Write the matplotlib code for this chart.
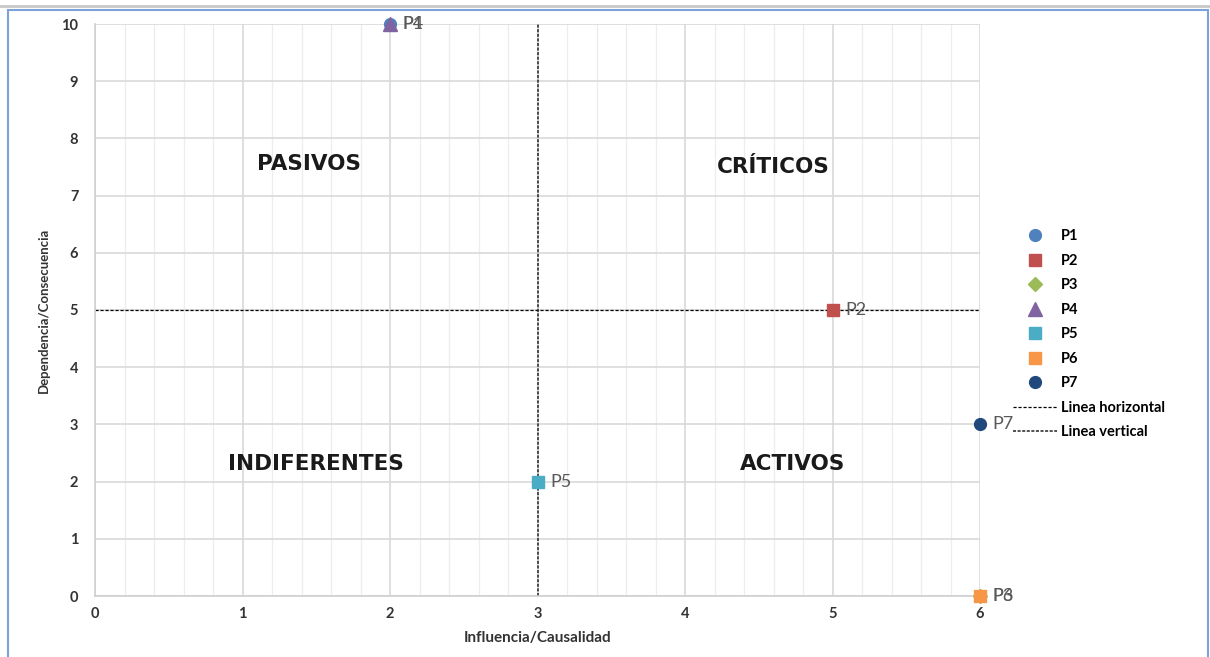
import matplotlib.pyplot as plt
from matplotlib.lines import Line2D
from matplotlib.patches import Rectangle

plt.rcParams['font.family'] = ['Lato', 'DejaVu Sans']

# datos de los puntos
nombres = ["P1", "P2", "P3", "P4", "P5", "P6", "P7"]
influencia = [2, 5, 6, 2, 3, 6, 6]
dependencia = [10, 5, 0, 10, 2, 0, 3]
marcadores = ["o", "s", "D", "^", "s", "s", "o"]
tamanos = [8.5, 8.5, 7, 10, 8.5, 8.5, 8.5]
colores = ["#4F81BD", "#C0504D", "#9BBB59", "#8064A2", "#4BACC6", "#F79646", "#1F497D"]

# cuadrantes
cuadrantes = ["PASIVOS", "CRÍTICOS", "INDIFERENTES", "ACTIVOS"]
cuad_x = [1.45, 4.6, 1.5, 4.73]
cuad_y = [7.55, 7.5, 2.3, 2.3]

fig = plt.figure(figsize=(12.1, 6.57), dpi=100)
ax = fig.add_axes([95/1210, 1 - 596/657, 885/1210, 572/657])

# marco de la imagen
fig.patches.append(Rectangle((8/1210, -0.05), 1200/1210, 1 - 10/657 + 0.05,
                             transform=fig.transFigure, fill=False,
                             edgecolor="#7BA3D9", linewidth=1.5))
fig.add_artist(Line2D([0, 1], [1 - 6/657, 1 - 6/657], transform=fig.transFigure,
                      color="#C8C8C8", linewidth=2))

ax.set_xlim(0, 6)
ax.set_ylim(0, 10)
ax.set_xticks(range(7))
ax.set_yticks(range(11))
ax.set_xticks([i * 0.2 for i in range(31)], minor=True)
ax.grid(True, which="major", color="#D9D9D9", linewidth=1.2)
ax.grid(True, which="minor", axis="x", color="#EDEDED", linewidth=0.9)
ax.set_axisbelow(True)
for s in ["top", "right"]:
    ax.spines[s].set_visible(False)
for s in ["left", "bottom"]:
    ax.spines[s].set_color("#D0D0D0")
    ax.spines[s].set_linewidth(1.2)
ax.tick_params(which="both", length=0)
ax.tick_params(axis="y", pad=12, labelsize=10.5, labelcolor="#333333")
ax.tick_params(axis="x", pad=8, labelsize=10.5, labelcolor="#333333")
for t in ax.get_xticklabels() + ax.get_yticklabels():
    t.set_fontweight("bold")

ax.set_xlabel("Influencia/Causalidad", fontsize=11, fontweight="bold", color="#333333", labelpad=7)
ax.set_ylabel("Dependencia/Consecuencia", fontsize=9.5, fontweight="bold", color="#333333", labelpad=8)

# lineas de referencia
lh, = ax.plot([0, 6], [5, 5], color="black", linestyle=(0, (2.5, 1.5)), linewidth=0.9,
              label="Linea horizontal", zorder=2)
lv, = ax.plot([3, 3], [0, 10], color="#222222", linestyle=(0, (2, 1)), linewidth=1.1,
              label="Linea vertical", zorder=2)

handles = []
for n, x, y, m, s, c in zip(nombres, influencia, dependencia, marcadores, tamanos, colores):
    h, = ax.plot([x], [y], linestyle="none", marker=m, color=c, markersize=s,
                 label=n, zorder=4, clip_on=False)
    handles.append(h)
    ax.annotate(n, (x, y), xytext=(9, 0), textcoords="offset points", va="center",
                fontsize=13, color="#595959", annotation_clip=False, zorder=5)

for t, x, y in zip(cuadrantes, cuad_x, cuad_y):
    ax.text(x, y, t, ha="center", va="center", fontsize=15.5, fontweight="bold",
            color="#1A1A1A", family="DejaVu Sans")

leg = fig.legend(handles + [lh, lv], nombres + ["Linea horizontal", "Linea vertical"],
                 loc="upper left", bbox_to_anchor=(1000/1210, 1 - 216/657), frameon=False,
                 labelspacing=0.72, handlelength=3.0, handletextpad=0.25,
                 prop={"weight": "bold", "size": 10.5})

fig.savefig("out.png", dpi=100)
